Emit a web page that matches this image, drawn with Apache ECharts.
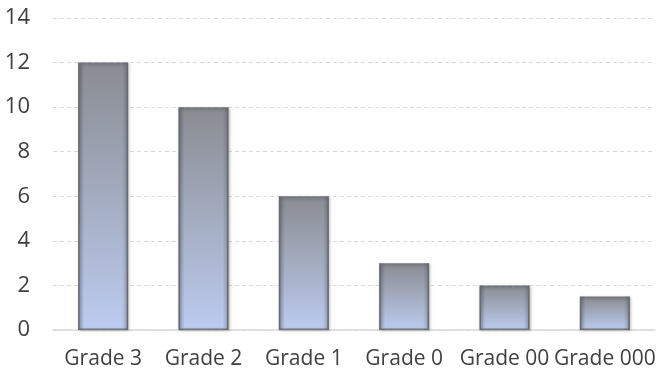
<!DOCTYPE html>
<html>
<head>
<meta charset="utf-8">
<script src="https://cdn.jsdelivr.net/npm/echarts@6/dist/echarts.min.js"></script>
<style>
  html, body { margin: 0; padding: 0; background: #fff; }
  #container { width: 668px; height: 378px; }
</style>
</head>
<body>
<div id="container"></div>
<script>
const grades = ['Grade 3', 'Grade 2', 'Grade 1', 'Grade 0', 'Grade 00', 'Grade 000']
const counts = [12, 10, 6, 3, 2, 1.5]

const myChart = echarts.init(document.getElementById('container'))

const option = {
  backgroundColor: '#ffffff',
  animation: false,
  grid: { left: 53, right: 13, top: 18, bottom: 48 },
  xAxis: {
    type: 'category',
    data: grades,
    axisTick: { show: false },
    axisLine: { lineStyle: { color: '#d9d9d9', width: 1.5 } },
    axisLabel: {
      interval: 0,
      color: '#404040',
      fontFamily: 'Open Sans',
      fontSize: 21,
      margin: 19
    }
  },
  yAxis: {
    type: 'value',
    min: 0,
    max: 14,
    interval: 2,
    axisLine: { show: false },
    axisTick: { show: false },
    axisLabel: {
      color: '#404040',
      fontFamily: 'Open Sans',
      fontSize: 22,
      margin: 23
    },
    splitLine: {
      lineStyle: { color: '#d9d9d9', type: [4, 3], width: 1 }
    }
  },
  series: [
    {
      type: 'bar',
      barWidth: 50,
      data: counts,
      itemStyle: {
        color: new echarts.graphic.LinearGradient(0, 0, 0, 1, [
          { offset: 0, color: '#8a8c92' },
          { offset: 0.5, color: '#a3acc0' },
          { offset: 1, color: '#bccbf0' }
        ]),
        borderColor: '#75787f',
        borderWidth: 1.5,
        shadowColor: 'rgba(0,0,0,0.25)',
        shadowBlur: 3,
        shadowOffsetX: 1,
        shadowOffsetY: 1
      }
    },
    {
      // bevel shading on the bar sides
      type: 'bar',
      barWidth: 50,
      barGap: '-100%',
      silent: true,
      data: counts,
      itemStyle: {
        color: new echarts.graphic.LinearGradient(0, 0, 1, 0, [
          { offset: 0, color: 'rgba(70,72,80,0.35)' },
          { offset: 0.12, color: 'rgba(70,72,80,0)' },
          { offset: 0.88, color: 'rgba(70,72,80,0)' },
          { offset: 1, color: 'rgba(70,72,80,0.35)' }
        ])
      }
    }
  ]
}

myChart.setOption(option)
</script>
</body>
</html>
